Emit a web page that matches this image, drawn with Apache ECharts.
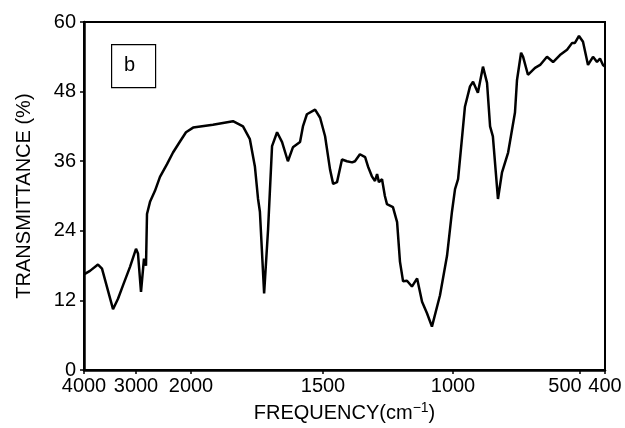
<!DOCTYPE html>
<html><head><meta charset="utf-8">
<script src="https://cdn.jsdelivr.net/npm/echarts@6/dist/echarts.min.js"></script>
<style>html,body{margin:0;padding:0;background:#fff}#c{width:625px;height:428px}</style>
</head><body><div id="c"></div>
<script>
// Non-linear IR frequency axis: tick wavenumbers and their positions on the axis scale
const tickWavenumbers = [4000, 3000, 2000, 1500, 1000, 500, 400];
const tickPositions = [0, 52, 107, 239, 369, 496, 521];
const yTicks = [0, 12, 24, 36, 48, 60];

const wavenumber = [4000,3885,3731,3654,3442,3346,3250,3115,3000,2964,2909,2855,2818,2800,2745,2655,2564,2436,2327,2200,2091,1992,1917,1841,1803,1777,1758,1746,1739,1723,1708,1693,1674,1655,1633,1614,1587,1576,1561,1530,1511,1492,1473,1461,1446,1427,1408,1388,1377,1358,1338,1327,1312,1300,1292,1285,1273,1262,1254,1231,1215,1204,1192,1177,1158,1138,1119,1100,1081,1050,1023,1004,992,980,965,953,933,921,902,882,866,854,843,823,807,783,756,748,732,724,705,677,657,630,606,579,551,531,520,504,488,468,448,432,420,408,400];
const transmittance = [16.5,17.1,18.2,17.5,10.5,12.3,14.6,17.8,20.9,20.1,13.5,19.2,18.0,26.9,29.0,30.9,33.3,35.5,37.5,39.4,41.0,41.8,42.3,42.9,42.0,39.8,35.1,29.5,27.3,13.2,24.3,38.6,41.0,39.3,36.0,38.4,39.3,42.0,44.1,44.9,43.5,40.3,34.6,32.1,32.4,36.3,36.0,35.8,36.0,37.2,36.7,35.1,33.4,32.6,33.8,32.4,32.9,30.0,28.6,28.1,25.5,18.7,15.3,15.4,14.4,15.8,11.8,9.8,7.5,12.9,19.7,27.3,31.2,32.9,39.8,45.4,48.9,49.7,47.8,52.3,49.5,42.0,40.3,29.5,34.1,37.5,44.4,50.0,54.7,54.0,50.9,52.1,52.6,54.0,53.1,54.3,55.2,56.4,56.4,57.6,56.6,52.6,54.0,53.1,53.7,52.6,52.3];

function toAxis(w) {
  for (let i = 0; i < tickWavenumbers.length - 1; i++) {
    const a = tickWavenumbers[i], b = tickWavenumbers[i + 1];
    if (w <= a && w >= b) {
      return tickPositions[i] + (a - w) / (a - b) * (tickPositions[i + 1] - tickPositions[i]);
    }
  }
  return w > tickWavenumbers[0] ? tickPositions[0] : tickPositions[tickPositions.length - 1];
}
function labelFor(v) {
  for (let i = 0; i < tickPositions.length; i++) {
    if (Math.abs(tickPositions[i] - v) < 0.01) {
      const w = tickWavenumbers[i];
      if (w === 500) return '{l|' + w + '}';
      if (w === 400) return '{r|' + w + '}';
      return String(w);
    }
  }
  return '';
}

const seriesData = wavenumber.map((w, i) => [toAxis(w), transmittance[i]]);
const FONT = 'Liberation Sans, Arial, sans-serif';

const chart = echarts.init(document.getElementById('c'), null, {renderer: 'canvas'});
chart.setOption({
  animation: false,
  backgroundColor: '#fff',
  grid: {left: 84, right: 20, top: 22, bottom: 56, show: true, borderColor: '#000', borderWidth: 2},
  xAxis: {
    type: 'value', min: tickPositions[0], max: tickPositions[tickPositions.length - 1],
    name: '{a|FREQUENCY(cm}{s|−1}{a|)}', nameLocation: 'middle', nameGap: 26,
    nameTextStyle: {
      rich: {
        a: {fontFamily: FONT, fontSize: 20, color: '#000'},
        s: {fontFamily: FONT, fontSize: 14, color: '#000', padding: [0, 0, 10, 0]}
      }
    },
    axisLine: {show: true, lineStyle: {color: '#000', width: 2.5}},
    axisTick: {show: true, inside: false, length: 4, lineStyle: {color: '#000', width: 1.5}, customValues: tickPositions},
    axisLabel: {
      show: true, customValues: tickPositions, formatter: labelFor, hideOverlap: false,
      showMinLabel: true, showMaxLabel: true,
      fontFamily: FONT, fontSize: 20, color: '#000', margin: 6,
      rich: {
        l: {fontFamily: FONT, fontSize: 20, color: '#000', padding: [0, 30, 0, 0]},
        r: {fontFamily: FONT, fontSize: 20, color: '#000', padding: [0, 0, 0, 0]}
      }
    },
    splitLine: {show: false}
  },
  yAxis: {
    type: 'value', min: 0, max: 60, interval: 12,
    name: 'TRANSMITTANCE (%)', nameLocation: 'middle', nameGap: 50,
    nameTextStyle: {fontFamily: FONT, fontSize: 20, color: '#000'},
    axisLine: {show: true, lineStyle: {color: '#000', width: 2.5}},
    axisTick: {show: true, inside: false, length: 4, lineStyle: {color: '#000', width: 1.5}},
    axisLabel: {fontFamily: FONT, fontSize: 20, color: '#000', margin: 8,
      formatter: v => yTicks.includes(v) ? String(v) : ''},
    splitLine: {show: false}
  },
  graphic: [
    {type: 'rect', left: 111, top: 44, shape: {width: 44, height: 43}, style: {fill: '#fff', stroke: '#000', lineWidth: 1.2}},
    {type: 'text', left: 124, top: 55, style: {text: 'b', font: '20px ' + FONT, fill: '#000'}}
  ],
  series: [{
    type: 'line', data: seriesData, showSymbol: false, smooth: false,
    lineStyle: {color: '#000', width: 2.5}
  }]
});
</script>
</body></html>
